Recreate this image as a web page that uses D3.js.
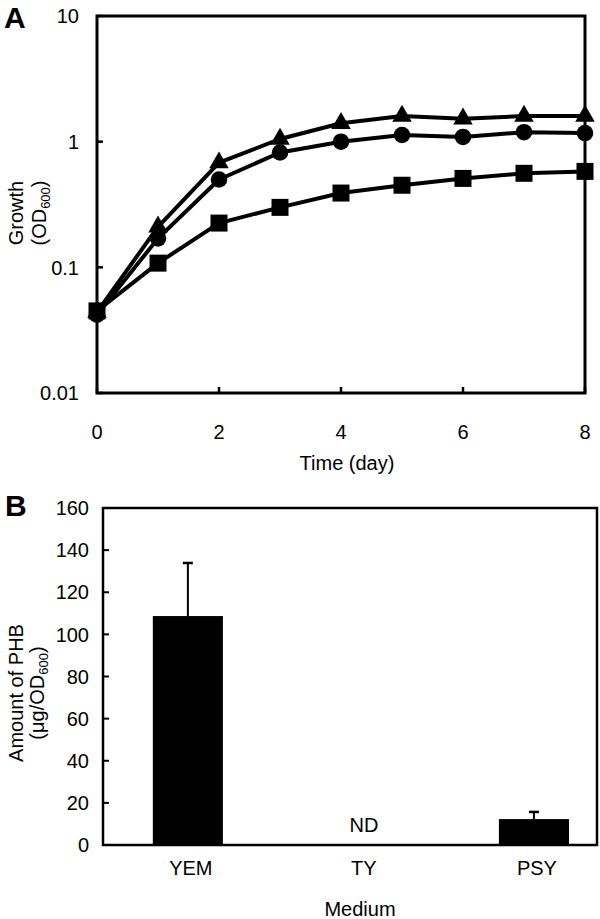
<!DOCTYPE html>
<html>
<head>
<meta charset="utf-8">
<script src="https://cdn.jsdelivr.net/npm/d3@7"></script>
<style>
  html, body { margin: 0; padding: 0; background: #fff; }
  svg { display: block; }
  text { font-family: "Liberation Sans", Arial, sans-serif; fill: #000; }
</style>
</head>
<body>
<svg id="chart" width="600" height="919"></svg>
<script>
// ---------- Panel A data ----------
const days = [0, 1, 2, 3, 4, 5, 6, 7, 8];
const triangleSeries = [0.044, 0.21, 0.68, 1.05, 1.4, 1.6, 1.52, 1.6, 1.6];
const circleSeries   = [0.042, 0.17, 0.50, 0.82, 1.0, 1.13, 1.09, 1.19, 1.17];
const squareSeries   = [0.045, 0.108, 0.225, 0.30, 0.39, 0.45, 0.51, 0.56, 0.58];
const growthTicks = [0.01, 0.1, 1, 10];
const growthTickLabels = ["0.01", "0.1", "1", "10"];
const dayTicks = [0, 2, 4, 6, 8];

// ---------- Panel B data ----------
const media = ["YEM", "TY", "PSY"];
const phbValues = [108.7, null, 12.3];
const phbErrors = [25.2, null, 3.4];
const phbTicks = [0, 20, 40, 60, 80, 100, 120, 140, 160];

const svg = d3.select("#chart");
const FS = 20;

// ================= Panel A =================
const A = { left: 97, right: 585, top: 16, bottom: 393 };
const xA = d3.scaleLinear().domain([0, 8]).range([A.left, A.right]);
const yA = d3.scaleLog().domain([0.01, 10]).range([A.bottom, A.top]);
const gA = svg.append("g");

// ticks (inward)
gA.selectAll(".ytA").data(growthTicks).enter().append("line")
  .attr("x1", A.left).attr("x2", A.left + 6)
  .attr("y1", d => yA(d)).attr("y2", d => yA(d))
  .attr("stroke", "#000").attr("stroke-width", 2.5);
gA.selectAll(".xtA").data(dayTicks).enter().append("line")
  .attr("x1", d => xA(d)).attr("x2", d => xA(d))
  .attr("y1", A.bottom).attr("y2", A.bottom - 6)
  .attr("stroke", "#000").attr("stroke-width", 2.5);

// frame
gA.append("rect")
  .attr("x", A.left).attr("y", A.top)
  .attr("width", A.right - A.left).attr("height", A.bottom - A.top)
  .attr("fill", "none").attr("stroke", "#000").attr("stroke-width", 3);

// tick labels
gA.selectAll(".ylA").data(growthTicks).enter().append("text")
  .attr("x", 79).attr("y", d => yA(d)).attr("dy", "0.36em")
  .attr("text-anchor", "end").attr("font-size", FS)
  .text((d, i) => growthTickLabels[i]);
gA.selectAll(".xlA").data(dayTicks).enter().append("text")
  .attr("x", d => xA(d)).attr("y", 439)
  .attr("text-anchor", "middle").attr("font-size", FS)
  .text(d => d);

// axis titles
gA.append("text").attr("x", 347).attr("y", 470)
  .attr("text-anchor", "middle").attr("font-size", FS).text("Time (day)");
gA.append("text").attr("transform", "translate(23,213) rotate(-90)")
  .attr("text-anchor", "middle").attr("font-size", FS).text("Growth");
const t2 = gA.append("text").attr("transform", "translate(46,213) rotate(-90)")
  .attr("text-anchor", "middle").attr("font-size", FS);
t2.append("tspan").text("(OD");
t2.append("tspan").attr("font-size", 13).attr("dy", 4).text("600");
t2.append("tspan").attr("dy", -4).text(")");

// panel letter
svg.append("text").attr("x", 4).attr("y", 28).attr("font-size", 30)
  .attr("font-weight", "bold").text("A");

// lines + markers
const line = d3.line().x((d, i) => xA(days[i])).y(d => yA(d));
const seriesList = [
  { values: squareSeries, sym: d3.symbolSquare, size: 289 },
  { values: circleSeries, sym: d3.symbolCircle, size: 215 },
  { values: triangleSeries, sym: d3.symbolTriangle, size: 165 }
];
seriesList.forEach(s => {
  gA.append("path").datum(s.values)
    .attr("d", line).attr("fill", "none")
    .attr("stroke", "#000").attr("stroke-width", 4)
    .attr("stroke-linejoin", "round");
});
seriesList.forEach(s => {
  gA.selectAll(null).data(s.values).enter().append("path")
    .attr("d", d3.symbol().type(s.sym).size(s.size))
    .attr("transform", (d, i) => `translate(${xA(days[i])},${yA(d)})`)
    .attr("fill", "#000");
});

// ================= Panel B =================
const B = { left: 103, right: 597, top: 508, bottom: 845 };
const xB = d3.scaleBand().domain(media).range([B.left, B.right])
  .paddingInner(0.595).paddingOuter(0.225).align(0.64);
const yB = d3.scaleLinear().domain([0, 160]).range([B.bottom, B.top]);
const gB = svg.append("g");

// bars
gB.selectAll(".bar").data(media.filter((m, i) => phbValues[i] != null)).enter()
  .append("rect")
  .attr("x", m => xB(m)).attr("width", xB.bandwidth())
  .attr("y", m => yB(phbValues[media.indexOf(m)]))
  .attr("height", m => B.bottom - yB(phbValues[media.indexOf(m)]))
  .attr("fill", "#000");

// error bars
media.forEach((m, i) => {
  if (phbValues[i] == null) return;
  const cx = xB(m) + xB.bandwidth() / 2;
  const top = yB(phbValues[i] + phbErrors[i]);
  gB.append("line").attr("x1", cx).attr("x2", cx)
    .attr("y1", yB(phbValues[i])).attr("y2", top)
    .attr("stroke", "#000").attr("stroke-width", 2);
  gB.append("line").attr("x1", cx - 5).attr("x2", cx + 5)
    .attr("y1", top).attr("y2", top)
    .attr("stroke", "#000").attr("stroke-width", 2.5);
});

// ND
media.forEach((m, i) => {
  if (phbValues[i] != null) return;
  gB.append("text").attr("x", xB(m) + xB.bandwidth() / 2 + 3).attr("y", 832)
    .attr("text-anchor", "middle").attr("font-size", FS).text("ND");
});

// y ticks inward
gB.selectAll(".ytB").data(phbTicks).enter().append("line")
  .attr("x1", B.left).attr("x2", B.left + 6)
  .attr("y1", d => yB(d)).attr("y2", d => yB(d))
  .attr("stroke", "#000").attr("stroke-width", 2);

// frame
gB.append("rect")
  .attr("x", B.left).attr("y", B.top)
  .attr("width", B.right - B.left).attr("height", B.bottom - B.top)
  .attr("fill", "none").attr("stroke", "#000").attr("stroke-width", 2.5);

// tick labels
gB.selectAll(".ylB").data(phbTicks).enter().append("text")
  .attr("x", 89).attr("y", d => yB(d)).attr("dy", "0.36em")
  .attr("text-anchor", "end").attr("font-size", FS).text(d => d);
gB.selectAll(".xlB").data(media).enter().append("text")
  .attr("x", m => xB(m) + xB.bandwidth() / 2 + 3).attr("y", 875)
  .attr("text-anchor", "middle").attr("font-size", FS).text(m => m);

// axis titles
gB.append("text").attr("x", 360).attr("y", 916)
  .attr("text-anchor", "middle").attr("font-size", FS).text("Medium");
gB.append("text").attr("transform", "translate(23,693) rotate(-90)")
  .attr("text-anchor", "middle").attr("font-size", FS).text("Amount of PHB");
const t3 = gB.append("text").attr("transform", "translate(44,693) rotate(-90)")
  .attr("text-anchor", "middle").attr("font-size", FS);
t3.append("tspan").text("(μg/OD");
t3.append("tspan").attr("font-size", 13).attr("dy", 4).text("600");
t3.append("tspan").attr("dy", -4).text(")");

svg.append("text").attr("x", 5).attr("y", 516).attr("font-size", 30)
  .attr("font-weight", "bold").text("B");
</script>
</body>
</html>
